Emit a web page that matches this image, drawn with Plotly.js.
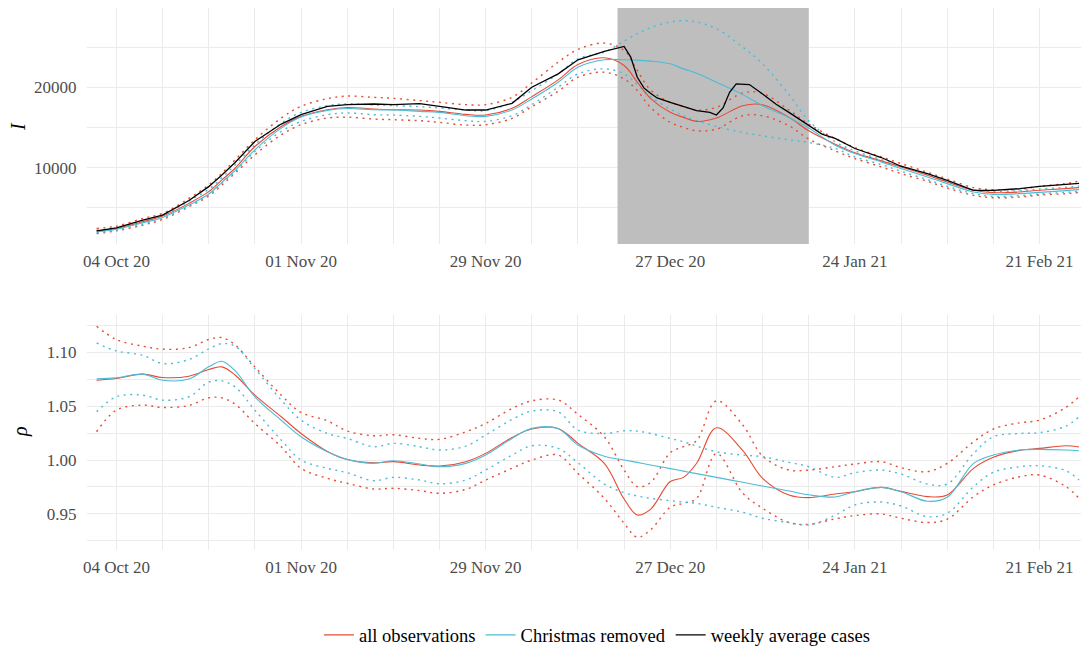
<!DOCTYPE html>
<html>
<head>
<meta charset="utf-8">
<script src="https://cdn.plot.ly/plotly-3.0.1.min.js"></script>
<style>html,body{margin:0;padding:0;background:#fff;}</style>
</head>
<body>
<div id="chart" style="width:1081px;height:655px;"></div>
<script>
// ---- data ----
const dates = ['2020-10-01','2020-10-04','2020-10-08','2020-10-11','2020-10-15','2020-10-18','2020-10-20','2020-10-22','2020-10-25','2020-10-29',
  '2020-11-01','2020-11-05','2020-11-08','2020-11-12','2020-11-15','2020-11-19','2020-11-22','2020-11-26','2020-11-29',
  '2020-12-03','2020-12-06','2020-12-10','2020-12-13','2020-12-17','2020-12-20','2020-12-22','2020-12-24','2020-12-27','2020-12-29','2020-12-31',
  '2021-01-03','2021-01-07','2021-01-10','2021-01-14','2021-01-17','2021-01-21','2021-01-24','2021-01-28','2021-01-31',
  '2021-02-04','2021-02-07','2021-02-11','2021-02-14','2021-02-18','2021-02-21','2021-02-25','2021-02-27'];

// top panel: I
const allI = [2125,2417,3250,3958,5542,7000,8458,9917,12625,15125,
  16375,17208,17480,17292,17208,17167,17000,16625,16542,
  17375,18833,20917,22833,23667,22708,20625,18625,16875,16250,15750,
  16167,17708,17833,16250,14583,12917,11833,10833,10083,
  9042,8208,7167,6875,6958,7167,7375,7500];
const allILo = [1792,2125,2833,3542,5125,6458,7833,9292,11583,14083,
  15333,16167,16270,16042,15958,15833,15625,15292,15333,
  16125,17583,19500,21250,21875,21042,19583,17500,15625,15000,14583,
  14792,16458,16458,15208,13542,12083,11125,10083,9250,
  8292,7458,6542,6250,6333,6583,6750,6917];
const allIHi = [2417,2708,3667,4292,6167,7833,9292,10958,13458,16167,
  17625,18583,18900,18750,18625,18333,18125,17833,17833,
  18750,20542,23125,24708,25500,24583,22083,19667,18125,17625,17167,
  17500,19292,19250,17167,15417,13625,12500,11333,10500,
  9417,8583,7500,7250,7292,7667,8000,8333];
const xmasI = [2000,2333,3125,3792,5333,6708,8167,9625,12208,14917,
  16292,17125,17350,17208,17167,17000,16875,16458,16375,
  17167,18542,20625,22500,23417,23417,23375,23250,22917,22292,21750,
  20625,19083,17708,16250,14917,12792,11750,10708,9875,
  8833,8000,6958,6667,6750,6917,7125,7250];
const xmasILo = [1875,2208,2958,3667,5208,6583,8042,9500,12000,14500,
  15750,16583,16800,16583,16542,16375,16167,15833,15750,
  16458,17833,20000,21667,22292,21667,20333,18833,17292,16458,15833,
  15125,14375,13958,13458,13125,12375,11333,10375,9542,
  8500,7667,6750,6417,6500,6708,6917,7042];
const xmasIHi = [2208,2500,3375,4042,5833,7292,8750,10333,12833,15542,
  16875,17708,17940,17792,17708,17583,17417,17167,17083,
  18125,19583,21667,23542,24375,25750,26667,27417,28125,28292,28125,
  27292,25000,22917,19083,15833,13208,12083,11000,10167,
  9125,8292,7250,7042,7125,7333,7542,7708];

const caseDates = ['2020-10-01','2020-10-04','2020-10-08','2020-10-11','2020-10-15','2020-10-18','2020-10-20','2020-10-22','2020-10-25','2020-10-29',
  '2020-11-01','2020-11-05','2020-11-08','2020-11-12','2020-11-15','2020-11-19','2020-11-22','2020-11-26','2020-11-29',
  '2020-12-03','2020-12-06','2020-12-10','2020-12-13','2020-12-17','2020-12-20','2020-12-21','2020-12-22','2020-12-23','2020-12-24','2020-12-25','2020-12-27','2020-12-29','2020-12-31',
  '2021-01-02','2021-01-03','2021-01-04','2021-01-05','2021-01-06','2021-01-08','2021-01-10','2021-01-12','2021-01-14','2021-01-17','2021-01-19','2021-01-21','2021-01-24','2021-01-28','2021-01-31',
  '2021-02-04','2021-02-07','2021-02-11','2021-02-14','2021-02-18','2021-02-21','2021-02-25','2021-02-27'];
const weeklyCases = [2125,2500,3458,4083,5900,7625,9083,10625,13250,15417,
  16583,17625,17833,17917,17833,17958,17625,17167,17167,
  18000,20000,21667,23417,24458,25083,23750,21250,19917,19250,18667,18125,17583,17083,
  16875,16542,17417,19375,20417,20333,19167,17917,16875,15208,14167,13625,12375,11250,10167,
  9250,8417,7167,7167,7375,7667,7917,8042];

// bottom panel: rho
const allRho = [1.0742,1.0758,1.0798,1.0767,1.0779,1.0841,1.0866,1.079,1.0603,1.0402,
  1.0247,1.008,1.0005,0.9975,0.9985,0.9954,0.9944,0.9985,1.0062,
  1.021,1.0288,1.0294,1.0155,0.9969,0.9638,0.949,0.9542,0.980,0.9839,0.997,
  1.030,1.0087,0.983,0.9675,0.9651,0.9685,0.9706,0.9746,0.9709,
  0.966,0.9675,0.9923,1.0025,1.009,1.0108,1.0133,1.0121];
const allRhoLo = [1.0263,1.0464,1.051,1.0489,1.0507,1.0578,1.0578,1.052,1.034,1.0124,
  0.9923,0.983,0.9784,0.9731,0.9737,0.9716,0.9691,0.9728,0.9814,
  0.9923,1.0,1.0046,0.9876,0.9644,0.9412,0.9283,0.9351,0.9561,0.9598,0.9644,
  1.006,0.9691,0.9552,0.9419,0.9403,0.9453,0.9484,0.9499,0.9459,
  0.9419,0.945,0.966,0.9768,0.9845,0.9861,0.9753,0.9644];
const allRhoHi = [1.1243,1.1119,1.1058,1.103,1.1045,1.112,1.1138,1.107,1.0866,1.0603,
  1.0442,1.0365,1.027,1.0226,1.0235,1.0201,1.0192,1.0263,1.034,
  1.0479,1.055,1.0557,1.0424,1.0216,0.9907,0.9753,0.979,1.0068,1.0124,1.018,
  1.055,1.0325,1.0037,0.9907,0.9907,0.9938,0.9963,0.9985,0.9929,
  0.9892,0.9969,1.017,1.0288,1.0346,1.0371,1.0489,1.0588];
const xmasRho = [1.0754,1.0764,1.0798,1.0742,1.0754,1.0866,1.0918,1.083,1.0588,1.037,
  1.0216,1.0077,1.0006,0.9969,0.9994,0.9963,0.9938,0.9969,1.0046,
  1.0201,1.0294,1.0291,1.0139,1.0035,1.0001,0.9978,0.9954,0.992,0.9897,0.9874,
  0.9839,0.9793,0.9758,0.9712,0.9677,0.9657,0.9706,0.9746,0.9706,
  0.9617,0.9654,0.9969,1.0046,1.0093,1.0099,1.0093,1.0087];
const xmasRhoLo = [1.0448,1.0588,1.0603,1.0557,1.0588,1.0724,1.0736,1.068,1.0464,1.0186,
  1.0,0.9923,0.9882,0.9808,0.9839,0.9814,0.978,0.9814,0.9907,
  1.0046,1.0133,1.0108,0.9975,0.9777,0.9697,0.9666,0.9644,0.9623,0.961,0.9598,
  0.9561,0.9515,0.9459,0.9419,0.9397,0.9487,0.9583,0.961,0.9573,
  0.9474,0.9505,0.9753,0.9886,0.9938,0.9947,0.9901,0.9814];
const xmasRhoHi = [1.1088,1.1014,1.0974,1.0897,1.0934,1.1033,1.1082,1.1058,1.085,1.0557,
  1.0371,1.0247,1.0201,1.0124,1.0155,1.0124,1.0093,1.013,1.0232,
  1.0377,1.0455,1.0448,1.0278,1.0247,1.0272,1.0269,1.0247,1.0201,1.017,1.013,
  1.0077,1.0046,1.0031,0.9978,0.9938,0.9839,0.9882,0.9907,0.987,
  0.9777,0.9777,1.0062,1.0216,1.0247,1.0254,1.0315,1.0402];

const shadeStart = '2020-12-19';
const shadeEnd = '2021-01-17';
const seriesNames = ['all observations', 'Christmas removed', 'weekly average cases'];
const axisTitles = ['<i>I</i>', '<i>ρ</i>'];

// axis ranges
const xRange = ['2020-09-29 13:00', '2021-02-27 07:00'];
const iRange = [485, 29870];
const rhoRange = [0.9164, 1.1348];

// ---- styling ----
const RED = '#E64B35', BLUE = '#4DBBD5', BLACK = '#000000';
const FONT = 'Liberation Serif, Times New Roman, serif';
const DOT = '2px,4.5px';

function tr(x, y, color, opts) {
  return Object.assign({
    type: 'scatter', mode: 'lines', x: x, y: y,
    line: {color: color, width: 1.1, shape: 'spline', smoothing: 1},
    showlegend: false, hoverinfo: 'skip'
  }, opts || {});
}
function dotted(x, y, color, xa, ya) {
  return tr(x, y, color, {xaxis: xa, yaxis: ya, line: {color: color, width: 1.4, dash: DOT, shape: 'spline', smoothing: 1}});
}

// shaded Christmas window (drawn as a filled trace so it sits above the grid)
const shade = {
  type: 'scatter', mode: 'lines', xaxis: 'x', yaxis: 'y',
  x: [shadeStart, shadeStart, shadeEnd, shadeEnd, shadeStart],
  y: [iRange[0], iRange[1], iRange[1], iRange[0], iRange[0]],
  fill: 'toself', fillcolor: '#bebebe', line: {width: 0, color: 'rgba(0,0,0,0)'},
  showlegend: false, hoverinfo: 'skip'
};

const traces = [
  shade,
  dotted(dates, allILo, RED, 'x', 'y'),
  dotted(dates, allIHi, RED, 'x', 'y'),
  dotted(dates, xmasILo, BLUE, 'x', 'y'),
  dotted(dates, xmasIHi, BLUE, 'x', 'y'),
  tr(dates, allI, RED, {xaxis: 'x', yaxis: 'y', name: seriesNames[0], showlegend: true}),
  tr(dates, xmasI, BLUE, {xaxis: 'x', yaxis: 'y', name: seriesNames[1], showlegend: true}),
  tr(caseDates, weeklyCases, BLACK, {xaxis: 'x', yaxis: 'y', name: seriesNames[2], showlegend: true,
     line: {color: BLACK, width: 1.3, shape: 'linear'}}),
  dotted(dates, allRhoLo, RED, 'x2', 'y2'),
  dotted(dates, allRhoHi, RED, 'x2', 'y2'),
  dotted(dates, xmasRhoLo, BLUE, 'x2', 'y2'),
  dotted(dates, xmasRhoHi, BLUE, 'x2', 'y2'),
  tr(dates, allRho, RED, {xaxis: 'x2', yaxis: 'y2'}),
  tr(dates, xmasRho, BLUE, {xaxis: 'x2', yaxis: 'y2'})
];

const DAY = 86400000;
const GRID = '#ebebeb';
const tickFont = {family: FONT, size: 17, color: '#4d4d4d'};
function xax(anchor) {
  return {
    type: 'date', anchor: anchor, range: xRange.slice(),
    tick0: '2020-10-04', dtick: 28 * DAY, tickformat: '%d %b %y',
    showgrid: true, gridcolor: GRID, gridwidth: 1,
    minor: {tick0: '2020-10-04', dtick: 7 * DAY, showgrid: true, gridcolor: GRID, gridwidth: 1},
    zeroline: false, showline: false,
    ticks: 'outside', ticklen: 2, tickcolor: 'rgba(0,0,0,0)',
    tickfont: tickFont, automargin: false
  };
}

const titleFont = {family: FONT, size: 20, color: '#000'};
const layout = {
  width: 1081, height: 655,
  margin: {l: 87, r: 0, t: 8, b: 105},
  paper_bgcolor: '#ffffff', plot_bgcolor: '#ffffff',
  font: {family: FONT, color: '#000'},
  showlegend: true,
  legend: {orientation: 'h', x: 0.513, xanchor: 'center', y: -0.1925, yanchor: 'bottom',
           font: {family: FONT, size: 18.5, color: '#000'}, traceorder: 'normal'},
  xaxis: Object.assign(xax('y'), {domain: [0, 1]}),
  xaxis2: Object.assign(xax('y2'), {domain: [0, 1]}),
  yaxis: {
    domain: [0.5646, 1], anchor: 'x', range: iRange.slice(),
    tick0: 0, dtick: 10000, tickformat: 'd',
    showgrid: true, gridcolor: GRID, gridwidth: 1,
    minor: {tick0: 0, dtick: 5000, showgrid: true, gridcolor: GRID, gridwidth: 1},
    zeroline: false, ticks: 'outside', ticklen: 6, tickcolor: 'rgba(0,0,0,0)',
    tickfont: tickFont, automargin: false
  },
  yaxis2: {
    domain: [0, 0.4336], anchor: 'x2', range: rhoRange.slice(),
    tick0: 1, dtick: 0.05, tickformat: '.2f',
    showgrid: true, gridcolor: GRID, gridwidth: 1,
    minor: {tick0: 1, dtick: 0.025, showgrid: true, gridcolor: GRID, gridwidth: 1},
    zeroline: false, ticks: 'outside', ticklen: 6, tickcolor: 'rgba(0,0,0,0)',
    tickfont: tickFont, automargin: false
  },
  annotations: [
    {text: axisTitles[0], xref: 'paper', yref: 'paper', x: -0.0694, y: 0.7804, xanchor: 'center', yanchor: 'middle',
     textangle: -90, showarrow: false, font: titleFont},
    {text: axisTitles[1], xref: 'paper', yref: 'paper', x: -0.0674, y: 0.2177, xanchor: 'center', yanchor: 'middle',
     textangle: -90, showarrow: false, font: titleFont}
  ]
};

Plotly.newPlot('chart', traces, layout, {staticPlot: true, displayModeBar: false});
</script>
</body>
</html>
